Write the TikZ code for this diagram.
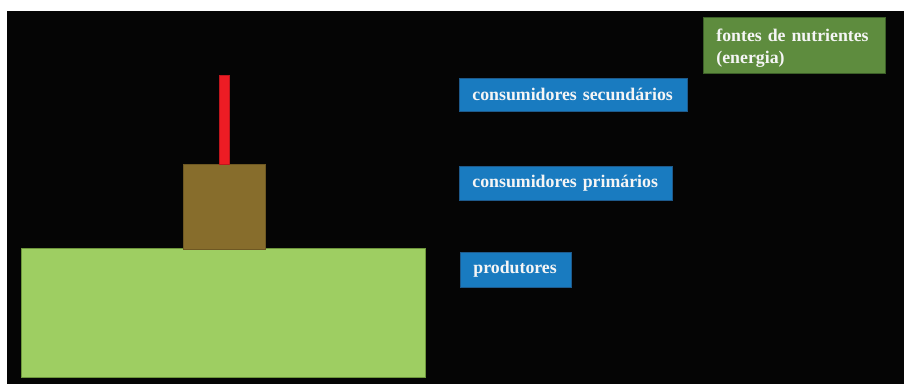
\documentclass[tikz,border=0pt]{standalone}
\usepackage{fontspec}
\setmainfont{Liberation Serif}
\definecolor{bgblack}{RGB}{5,5,5}
\definecolor{levelblue}{RGB}{25,123,192}
\definecolor{levelblueedge}{RGB}{30,90,140}
\definecolor{sourcegreen}{RGB}{94,140,62}
\definecolor{sourcegreenedge}{RGB}{60,95,40}
\definecolor{grass}{RGB}{158,206,98}
\definecolor{grassedge}{RGB}{110,150,60}
\definecolor{trunk}{RGB}{135,109,44}
\definecolor{trunkedge}{RGB}{110,88,35}
\definecolor{stem}{RGB}{237,28,36}
\definecolor{labeltext}{RGB}{245,245,245}
\tikzset{
  levelbox/.style={draw=levelblueedge, line width=0.8pt, fill=levelblue,
    anchor=north west, inner xsep=13pt, inner ysep=0pt, align=left,
    text=labeltext, font=\fontsize{17.8}{22}\selectfont\bfseries},
  sourcebox/.style={levelbox, draw=sourcegreenedge, fill=sourcegreen},
  block/.style={line width=0.8pt}
}
\begin{document}
\begin{tikzpicture}[x=1pt,y=-1pt]
  \useasboundingbox (0,0) rectangle (904,384);
  % page and dark canvas
  \fill[white] (0,0) rectangle (904,384);
  \fill[bgblack] (7,11) rectangle (904,384);
  % ground, trunk and stem
  \draw[block, draw=grassedge, fill=grass] (21,248) rectangle (425,377);
  \draw[block, draw=trunkedge, fill=trunk] (183,164) rectangle (265,249);
  \draw[block, draw=stem!80!black, fill=stem] (219.5,75) rectangle (229,164);
  % labels (box width = text width + 26pt)
  \node[sourcebox, text width=156pt, minimum height=56pt] (fontes) at (703,17)
    {\rule{0pt}{19pt}fontes de nutrientes\\(energia)};
  \node[levelbox, text width=202pt, minimum height=33pt] (sec) at (459,78)
    {consumidores secundários};
  \node[levelbox, text width=186.5pt, minimum height=34pt] (prim) at (459,166)
    {consumidores primários};
  \node[levelbox, text width=84.5pt, minimum height=34.5pt] (prod) at (460,252)
    {produtores};
\end{tikzpicture}
\end{document}
